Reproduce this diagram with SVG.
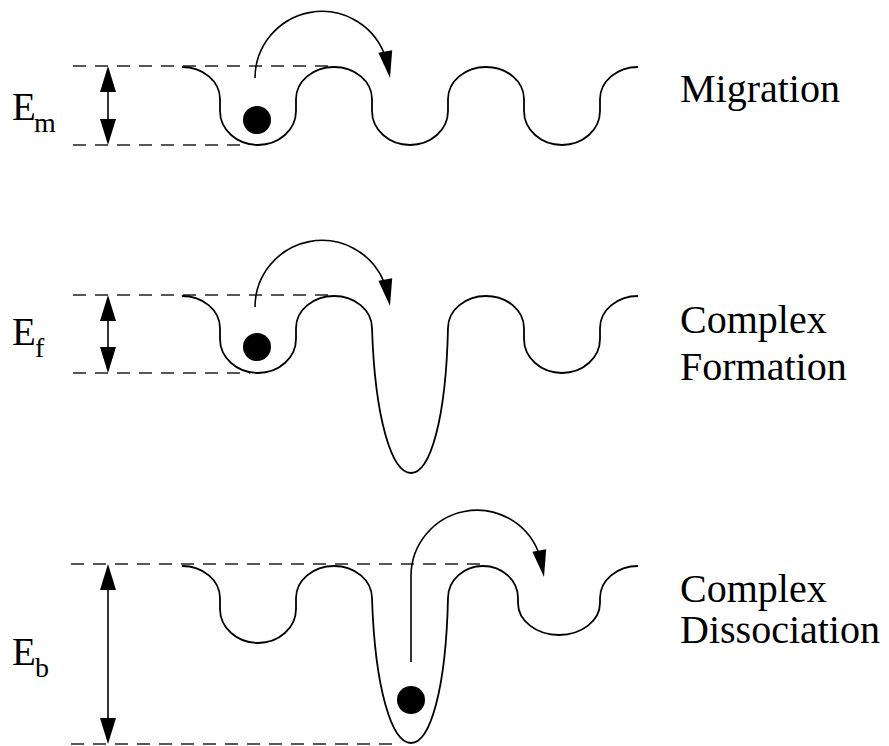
<svg xmlns="http://www.w3.org/2000/svg" xmlns:xlink="http://www.w3.org/1999/xlink" width="889" height="746" viewBox="0 0 889 746">
<style>
.bg{fill:#fff}
.dash{stroke:#222;stroke-width:1.3;stroke-dasharray:13 9;fill:none}
.curve{stroke:#000;stroke-width:1.8;fill:none}
.hop{stroke:#000;stroke-width:1.6;fill:none}
.dim{stroke:#000;stroke-width:1.6;fill:none}
.ball{fill:#000}
text{font-family:'Liberation Serif','Tinos','Times New Roman','DejaVu Serif','Noto Serif',serif;fill:#000}
.lbl{font-size:40px}
.sym{font-size:39px}
.sub{font-size:28px}
</style>
<defs>
<polygon id="head" points="0,0 -7,-27 7,-27" fill="#000"/>
<polygon id="dhead" points="0,0 -8,-26 8,-26" fill="#000"/>
</defs>
<rect class="bg" x="0" y="0" width="889" height="746"/>

<g id="migration">
<line class="dash" x1="73" y1="66" x2="332" y2="66"/>
<line class="dash" x1="73" y1="145" x2="242" y2="145"/>
<path class="curve" d="M182,67 A38,32 0 0 1 220,99 L220,111 A38,34 0 0 0 296,111 L296,99 A38,32 0 0 1 372,99 L372,111 A38,34 0 0 0 448,111 L448,99 A38,32 0 0 1 524,99 L524,111 A38,34 0 0 0 600,111 L600,99 A38,32 0 0 1 638,67"/>
<circle class="ball" cx="257" cy="120" r="14"/>
<text class="sym" x="12" y="120" font-family="Liberation Serif, serif">E</text>
<text class="sub" x="34" y="132" font-family="Liberation Serif, serif">m</text>
<text class="lbl" x="680" y="102" font-family="Liberation Serif, serif">Migration</text>
</g>

<g id="formation">
<line class="dash" x1="73" y1="295" x2="334" y2="295"/>
<line class="dash" x1="73" y1="373" x2="250" y2="373"/>
<path class="curve" d="M182,296 A38,32 0 0 1 220,328 L220,339 A38,34 0 0 0 296,339 L296,328 A38,32 0 0 1 372,328 C375,420 392,473 411,473 C430,473 446,420 448,328 A38,32 0 0 1 524,328 L524,339 A38,34 0 0 0 600,339 L600,328 A38,32 0 0 1 638,296"/>
<circle class="ball" cx="257" cy="347" r="14"/>
<text class="sym" x="12" y="345" font-family="Liberation Serif, serif">E</text>
<text class="sub" x="35" y="357" font-family="Liberation Serif, serif">f</text>
<text class="lbl" x="680" y="333" font-family="Liberation Serif, serif">Complex</text>
<text class="lbl" x="680" y="380" font-family="Liberation Serif, serif">Formation</text>
</g>

<g id="dissociation">
<line class="dash" x1="71" y1="564" x2="488" y2="564"/>
<line class="dash" x1="71" y1="744" x2="392" y2="744"/>
<path class="curve" d="M182,566 A38,32 0 0 1 220,598 L220,609 A38,34 0 0 0 296,609 L296,598 A38,32 0 0 1 372,598 C375,690 392,743 411,743 C430,743 446,690 448,598 A35,32 0 0 1 518,598 L518,603 A41,32 0 0 0 600,603 L600,598 A38,32 0 0 1 638,566"/>
<circle class="ball" cx="411" cy="700" r="14"/>
<text class="sym" x="12" y="665" font-family="Liberation Serif, serif">E</text>
<text class="sub" x="35" y="677" font-family="Liberation Serif, serif">b</text>
<text class="lbl" x="680" y="602" font-family="Liberation Serif, serif">Complex</text>
<text class="lbl" x="680" y="643" font-family="Liberation Serif, serif">Dissociation</text>
</g>

<g id="connectors">
<line class="dim" x1="108" y1="70" x2="108" y2="141"/>
<use xlink:href="#dhead" transform="translate(108,66) rotate(180)"/>
<use xlink:href="#dhead" transform="translate(108,145)"/>
<line class="dim" x1="108" y1="299" x2="108" y2="369"/>
<use xlink:href="#dhead" transform="translate(108,295) rotate(180)"/>
<use xlink:href="#dhead" transform="translate(108,373)"/>
<line class="dim" x1="108" y1="568" x2="108" y2="740"/>
<use xlink:href="#dhead" transform="translate(108,564) rotate(180)"/>
<use xlink:href="#dhead" transform="translate(108,744)"/>
<path class="hop" d="M255,78 A67,67 0 0 1 384,53"/>
<use xlink:href="#head" transform="translate(390,78) rotate(-10)"/>
<path class="hop" d="M255,307 A67,67 0 0 1 384,282"/>
<use xlink:href="#head" transform="translate(390,306) rotate(-10)"/>
<path class="hop" d="M411,662 L411,576 A66,66 0 0 1 538,551"/>
<use xlink:href="#head" transform="translate(544,577) rotate(-10)"/>
</g>
</svg>
